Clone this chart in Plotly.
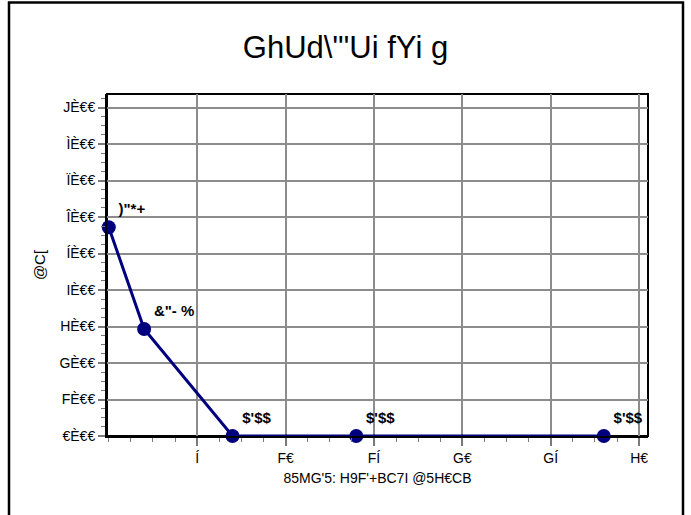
import plotly.graph_objects as go

# Data
x_vals = [0, 2, 7, 14, 28]
y_vals = [5.72, 2.93, 0, 0, 0]
point_labels = [')"*+', '&"- %', "$'$$", "$'$$", "$'$$"]

x_tick_vals = [5, 10, 15, 20, 25, 30]
x_tick_text = ["Í", "F€", "FÍ", "G€", "GÍ", "H€"]
y_tick_vals = [0, 1, 2, 3, 4, 5, 6, 7, 8, 9]
y_tick_text = ["€È€€", "FÈ€€", "GÈ€€", "HÈ€€", "IÈ€€", "ÍÈ€€", "ÎÈ€€", "ÏÈ€€", "ÌÈ€€", "JÈ€€"]

title_text = "GhUd\\\"'Ui fYi g"
x_title = "85MG'5: H9F'+BC7I @5H€CB"
y_title = "@C["

W, H = 691, 515
L, R, T, B = 107, 648, 94, 436

FONT = "Liberation Sans, Arial, sans-serif"
NAVY = "#00007f"

fig = go.Figure()
fig.add_trace(go.Scatter(
    x=x_vals, y=y_vals, mode="lines+markers+text",
    line=dict(color=NAVY, width=3),
    marker=dict(color=NAVY, size=14),
    text=point_labels, textposition="top right",
    textfont=dict(family=FONT, size=15, color="black", weight="bold"),
    cliponaxis=False, showlegend=False, hoverinfo="skip",
))

axis_common = dict(
    showline=True, linecolor="black", linewidth=2, mirror=False,
    showgrid=True, gridcolor="#8c8c8c", gridwidth=1.5,
    ticks="outside", tickcolor="#7a7a7a", tickwidth=1.5,
    tickfont=dict(family=FONT, size=14, color="black"),
    zeroline=False,
)

fig.update_layout(
    width=W, height=H,
    margin=dict(l=L, r=W - R, t=T, b=H - B),
    paper_bgcolor="white", plot_bgcolor="white",
    title=dict(text=title_text, x=0.5, xanchor="center", xref="container",
               y=1 - 47 / H, yanchor="middle",
               font=dict(family=FONT, size=31, color="black")),
    xaxis=dict(range=[-0.1, 30.5], tickvals=x_tick_vals, ticktext=x_tick_text,
               ticklen=8,
               minor=dict(dtick=1.25, tick0=0, ticklen=4, ticks="outside",
                          tickcolor="#7a7a7a", tickwidth=1.2, showgrid=False),
               title=dict(text=x_title, standoff=8,
                          font=dict(family=FONT, size=14, color="black")),
               **axis_common),
    yaxis=dict(range=[0, 9.37], tickvals=y_tick_vals, ticktext=y_tick_text,
               ticklen=7,
               minor=dict(dtick=0.25, tick0=0, ticklen=4, ticks="outside",
                          tickcolor="#7a7a7a", tickwidth=1.2, showgrid=False),
               title=dict(text=y_title, standoff=10,
                          font=dict(family=FONT, size=15, color="black")),
               **axis_common),
)

# plot-area frame (top/right edges without mirrored ticks)
fig.add_shape(type="rect", xref="paper", yref="paper", x0=0, x1=1, y0=0, y1=1,
              line=dict(color="black", width=2), fillcolor="rgba(0,0,0,0)",
              layer="below")

pw, ph = R - L, B - T
fig.add_shape(type="rect", xref="paper", yref="paper",
              x0=(9 - L) / pw, x1=(683 - L) / pw,
              y0=(B - 540) / ph, y1=(B - 2.5) / ph,
              line=dict(color="black", width=2.5), fillcolor="rgba(0,0,0,0)",
              layer="above")

fig.write_html("out.html", config={"displayModeBar": False},
               post_script="document.body.style.margin='0';")
